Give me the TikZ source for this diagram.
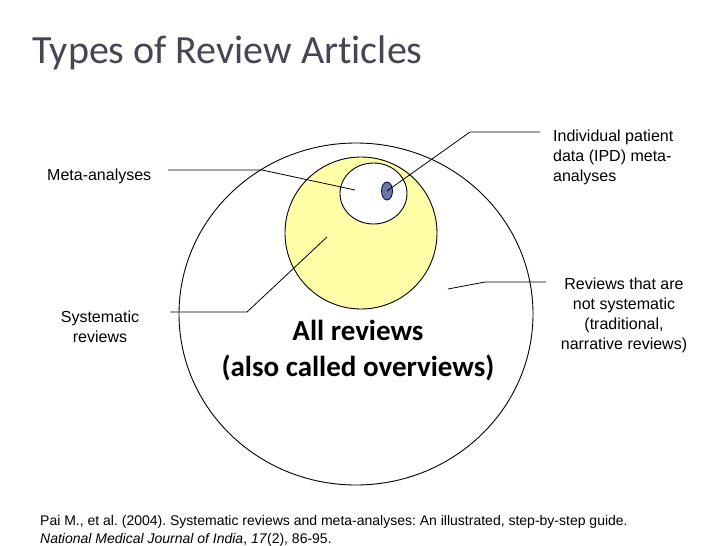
\documentclass[tikz,border=0pt]{standalone}
\usepackage{fontspec}
\usetikzlibrary{shapes.geometric}
\setmainfont{Liberation Sans}
\newfontfamily\calib[Ligatures=NoCommon]{Carlito}
\definecolor{titlegray}{HTML}{464652}
\definecolor{paleyellow}{HTML}{FFFFA8}
\definecolor{slateblue}{HTML}{6B76A3}
\frenchspacing
\begin{document}
\begin{tikzpicture}[x=1pt,y=-1pt,
  lbl/.style={inner sep=0pt,font=\fontsize{16}{20}\selectfont},
  lead/.style={draw=black,line width=0.8pt},
  ring/.style={draw=black,line width=0.9pt}]
\useasboundingbox (0,0) rectangle (728,546);
\fill[white] (0,0) rectangle (728,546);
% title
\node[anchor=base west,inner sep=0pt,text=titlegray,font=\calib\fontsize{40}{48}\selectfont] (title) at (32,63) {Types of Review Articles};
% circles
\node[ring,ellipse,minimum width=354pt,minimum height=342pt,inner sep=0pt] (all) at (356,314) {};
\node[ring,circle,fill=paleyellow,minimum size=152pt,inner sep=0pt] (sys) at (361,233) {};
\node[ring,ellipse,fill=white,minimum width=67pt,minimum height=61pt,inner sep=0pt] (meta) at (373.5,193.5) {};
\node[draw=black!70!blue,line width=0.8pt,ellipse,fill=slateblue,minimum width=11pt,minimum height=18pt,inner sep=0pt] (ipd) at (387,191) {};
% labels
\node[lbl,anchor=west] (lmeta) at (47,176) {Meta-analyses};
\node[lbl,align=center] (lsys) at (100,327) {Systematic\\reviews};
\node[lbl,align=left,anchor=north west] (lipd) at (553,130) {Individual patient\\data (IPD) meta-\\analyses};
\node[lbl,align=center] (lnon) at (624,315) {Reviews that are\\not systematic\\(traditional,\\narrative reviews)};
\node[align=center,inner sep=0pt,font=\calib\bfseries\fontsize{29}{36}\selectfont] (lall) at (358,351) {All reviews\\(also called overviews)};
% leader endpoints
\coordinate (m1) at (168,170);
\coordinate (m2) at (262,170);
\coordinate (m3) at (355,190);
\coordinate (i1) at (540,132);
\coordinate (i2) at (470,132);
\coordinate (s1) at (170,312);
\coordinate (s2) at (247,312);
\coordinate (s3) at (327,237);
\coordinate (n1) at (546,282);
\coordinate (n2) at (485,282);
\coordinate (n3) at (448,289);
\draw[lead] (m1) -- (m2) -- (m3);
\draw[lead] (i1) -- (i2) -- (ipd.center);
\draw[lead] (s1) -- (s2) -- (s3);
\draw[lead] (n1) -- (n2) -- (n3);
% citation
\node[anchor=base west,inner sep=0pt,font=\fontsize{14}{19}\selectfont] (cite) at (40,525) {Pai M., et al. (2004). Systematic reviews and meta-analyses: An illustrated, step-by-step guide.};
\node[anchor=base west,inner sep=0pt,font=\fontsize{14}{19}\selectfont] (cite2) at (40,543) {\textit{National Medical Journal of India}, \textit{17}(2), 86-95.};
\end{tikzpicture}
\end{document}
